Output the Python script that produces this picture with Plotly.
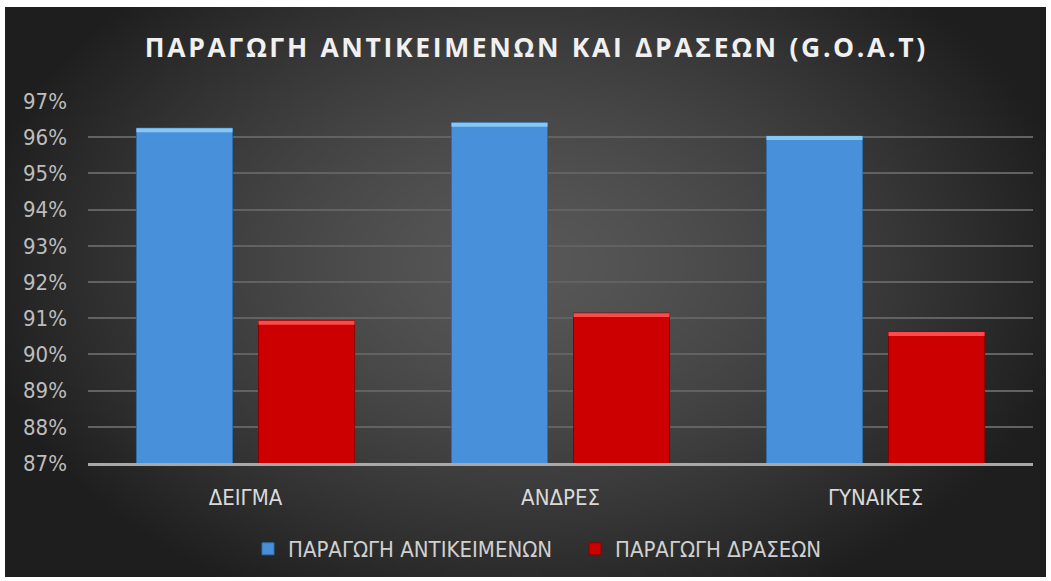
import base64, struct, zlib
import numpy as np
import plotly.graph_objects as go

# ---------------- data ----------------
categories = ["ΔΕΙΓΜΑ", "ΑΝΔΡΕΣ", "ΓΥΝΑΙΚΕΣ"]
series_names = ["ΠΑΡΑΓΩΓΗ ΑΝΤΙΚΕΙΜΕΝΩΝ", "ΠΑΡΑΓΩΓΗ ΔΡΑΣΕΩΝ"]
objects_values = [96.25, 96.40, 96.03]
actions_values = [90.93, 91.14, 90.62]
y_ticks = [87, 88, 89, 90, 91, 92, 93, 94, 95, 96, 97]
y_tick_labels = ["87%", "88%", "89%", "90%", "91%", "92%", "93%", "94%", "95%", "96%", "97%"]
title_text = "ΠΑΡΑΓΩΓΗ ΑΝΤΙΚΕΙΜΕΝΩΝ ΚΑΙ ΔΡΑΣΕΩΝ (G.O.A.T)"

# ---------------- layout geometry ----------------
W, H = 1051, 581
ML, MR, MT, MB = 88, 18, 101, 118
PANEL = (5, 7, 1046, 577)  # left, top, right, bottom in px

# ---------------- radial gradient background as PNG ----------------
def make_png(arr):
    h, w = arr.shape[:2]
    raw = b"".join(b"\x00" + arr[i].tobytes() for i in range(h))
    def chunk(t, d):
        c = struct.pack(">I", len(d)) + t + d
        return c + struct.pack(">I", zlib.crc32(t + d) & 0xFFFFFFFF)
    png = b"\x89PNG\r\n\x1a\n"
    png += chunk(b"IHDR", struct.pack(">IIBBBBB", w, h, 8, 2, 0, 0, 0))
    png += chunk(b"IDAT", zlib.compress(raw, 9))
    png += chunk(b"IEND", b"")
    return "data:image/png;base64," + base64.b64encode(png).decode()

gw, gh = 260, 142
xx, yy = np.meshgrid(np.linspace(0, 1, gw), np.linspace(0, 1, gh))
r = np.sqrt(((xx - 0.5) / 0.5) ** 2 + ((yy - 0.45) / 0.62) ** 2)
v = 88 - 52 * np.clip(r, 0, 1.25) ** 1.4
v = np.clip(v, 30, 255).astype(np.uint8)
img = np.stack([v, v, v], axis=-1)
bg_src = make_png(img)

pw, ph = W - ML - MR, H - MT - MB
px0 = (PANEL[0] - ML) / pw
px1 = (PANEL[2] - ML) / pw
py_top = (H - MB - PANEL[1]) / ph
py_bot = (H - MB - PANEL[3]) / ph

# ---------------- figure ----------------
blue, blue_hi, blue_edge = "#4891da", "#86c8f4", "#2f6ea8"
red, red_hi, red_edge = "#cc0000", "#ff4a4a", "#8a0000"
cap = 0.11
narrow = "Liberation Sans Narrow, DejaVu Sans Condensed, sans-serif"

fig = go.Figure()
fig.add_trace(go.Bar(x=categories, y=objects_values, name=series_names[0],
                     offsetgroup="a", marker=dict(color=blue, line=dict(color=blue_edge, width=1))))
fig.add_trace(go.Bar(x=categories, y=actions_values, name=series_names[1],
                     offsetgroup="b", marker=dict(color=red, line=dict(color=red_edge, width=1))))
fig.add_trace(go.Bar(x=categories, y=[cap] * len(objects_values),
                     base=[v - cap for v in objects_values], offsetgroup="a", showlegend=False,
                     hoverinfo="skip", marker=dict(color=blue_hi, line=dict(width=0))))
fig.add_trace(go.Bar(x=categories, y=[cap] * len(actions_values),
                     base=[v - cap for v in actions_values], offsetgroup="b", showlegend=False,
                     hoverinfo="skip", marker=dict(color=red_hi, line=dict(width=0))))

spaced_title = "\u200a".join(title_text).replace("\u200a \u200a", "\u2002")

fig.update_layout(
    width=W, height=H,
    margin=dict(l=ML, r=MR, t=MT, b=MB),
    paper_bgcolor="white",
    plot_bgcolor="rgba(0,0,0,0)",
    barmode="group",
    bargap=0.225,
    bargroupgap=0.213,
    title=dict(text=spaced_title, x=535 / W, xanchor="center", y=1 - 48 / H, yanchor="middle",
               yref="container", xref="container",
               font=dict(family="Open Sans, DejaVu Sans, sans-serif", size=26.5, color="#f0f0f0",
                         weight="bold")),
    images=[dict(source=bg_src, xref="paper", yref="paper", x=px0, y=py_top,
                 sizex=px1 - px0, sizey=py_top - py_bot, sizing="stretch",
                 layer="below", xanchor="left", yanchor="top")],
    xaxis=dict(showgrid=False, showline=True, linecolor="#a8a8a8", linewidth=3,
               ticks="", ticklabelstandoff=13,
               tickfont=dict(family=narrow, size=22, color="#d9d9d9")),
    yaxis=dict(range=[87, 97], tickvals=y_ticks, ticktext=y_tick_labels,
               showgrid=True, gridcolor="#626262", gridwidth=2, zeroline=False,
               showline=False, ticks="", ticklabelstandoff=20,
               tickfont=dict(family=narrow, size=22, color="#bdbdbd")),
    legend=dict(orientation="h", x=248 / W, xref="container", xanchor="left",
                y=1 - 549 / H, yref="container", yanchor="middle",
                font=dict(family=narrow, size=22, color="#d0d0d0"),
                entrywidth=282, entrywidthmode="pixels",
                bgcolor="rgba(0,0,0,0)", itemwidth=30),
    showlegend=True,
)

fig.write_html("out.html")
